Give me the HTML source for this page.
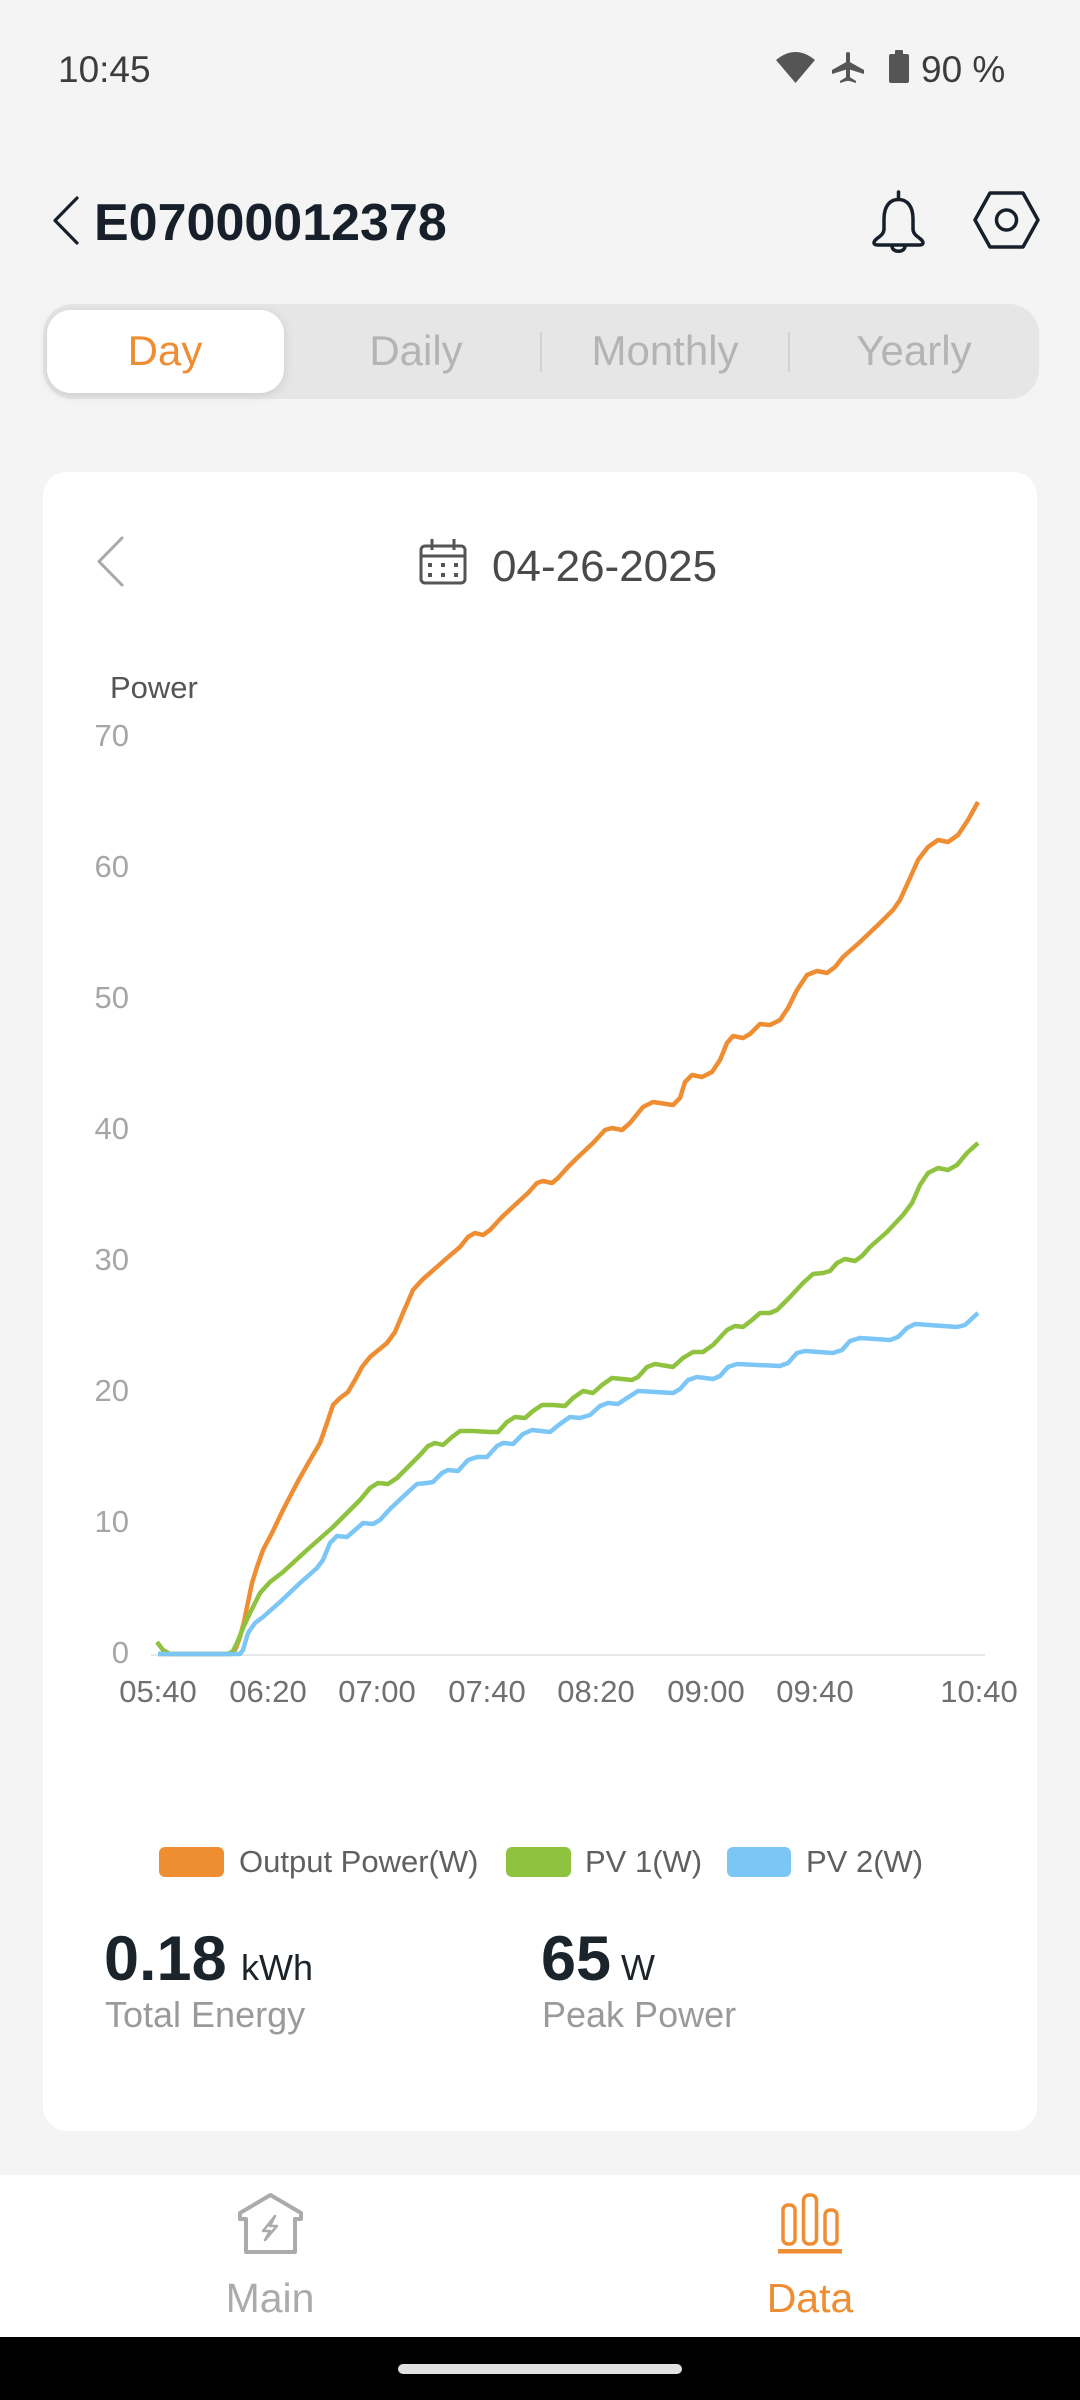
<!DOCTYPE html>
<html>
<head>
<meta charset="utf-8">
<style>
  html,body{margin:0;padding:0;background:#f4f4f4;}
  body{width:1080px;height:2400px;overflow:hidden;}
  svg{display:block;font-family:"Liberation Sans",Arial,sans-serif;}
</style>
</head>
<body>
<svg width="1080" height="2400" viewBox="0 0 1080 2400" xmlns="http://www.w3.org/2000/svg">
  <defs>
    <filter id="sh" x="-20%" y="-30%" width="140%" height="160%">
      <feDropShadow dx="0" dy="2" stdDeviation="5" flood-color="#000" flood-opacity="0.12"/>
    </filter>
  </defs>
  <rect x="0" y="0" width="1080" height="2400" fill="#f4f4f4"/>

  <!-- Status bar -->
  <text x="58" y="82" font-size="37" fill="#3c3c3c">10:45</text>
  <path d="M776,60 Q795.5,44 815,60 L795.5,83 Z" fill="#555"/>
  <g fill="#555">
    <rect x="846" y="52" width="4" height="29" rx="2"/>
    <polygon points="848,61 864,70 864,74 848,69 832,74 832,70"/>
    <polygon points="848,76 856,81 856,83 848,80.5 840,83 840,81"/>
    <rect x="895" y="50" width="8" height="5" rx="1"/>
    <rect x="889" y="54" width="20" height="29" rx="2"/>
  </g>
  <text x="921" y="82" font-size="37" fill="#3c3c3c">90 %</text>

  <!-- Title row -->
  <polyline points="77,198 55,220.5 77,243" fill="none" stroke="#17202a" stroke-width="3.2" stroke-linecap="round" stroke-linejoin="round"/>
  <text x="94" y="240" font-size="52" font-weight="bold" fill="#17202a">E07000012378</text>
  <g fill="none" stroke="#17202a" stroke-width="3.5" stroke-linejoin="round" stroke-linecap="round">
    <line x1="898.5" y1="192" x2="898.5" y2="199"/>
    <path d="M884,219 C884,206 890,199.5 898.5,199.5 C907,199.5 913,206 913,219 L913,229 C913,235 919,237 922,240.5 C924,243 923,245 919,245 L878,245 C874,245 873,243 875,240.5 C878,237 884,235 884,229 Z"/>
    <path d="M892,246 C892,253 905,253 905,246"/>
    <path d="M975,220 L990,193 L1023,193 L1038,220 L1023,247 L990,247 Z"/>
    <circle cx="1006.5" cy="220" r="10"/>
  </g>

  <!-- Segmented control -->
  <rect x="43" y="304" width="996" height="95" rx="30" fill="#e6e6e6"/>
  <rect x="47" y="310" width="237" height="83" rx="24" fill="#ffffff" filter="url(#sh)"/>
  <line x1="541" y1="332" x2="541" y2="372" stroke="#d2d2d2" stroke-width="2"/>
  <line x1="789" y1="332" x2="789" y2="372" stroke="#d2d2d2" stroke-width="2"/>
  <text x="165" y="365" font-size="42" fill="#ef8d33" text-anchor="middle">Day</text>
  <text x="416" y="365" font-size="42" fill="#b4b4b4" text-anchor="middle">Daily</text>
  <text x="665" y="365" font-size="42" fill="#b4b4b4" text-anchor="middle">Monthly</text>
  <text x="914" y="365" font-size="42" fill="#b4b4b4" text-anchor="middle">Yearly</text>

  <!-- Card -->
  <rect x="43" y="472" width="994" height="1659" rx="24" fill="#ffffff"/>
  <polyline points="122,538 99,561.5 122,585" fill="none" stroke="#a8a8a8" stroke-width="3" stroke-linecap="round" stroke-linejoin="round"/>
  <g fill="none" stroke="#555" stroke-width="3">
    <rect x="421" y="546" width="44" height="37" rx="4"/>
    <line x1="421" y1="556" x2="465" y2="556"/>
    <line x1="432" y1="539" x2="432" y2="550"/>
    <line x1="454" y1="539" x2="454" y2="550"/>
  </g>
  <g fill="#555">
    <rect x="428" y="563" width="4" height="4"/><rect x="441" y="563" width="4" height="4"/><rect x="454" y="563" width="4" height="4"/>
    <rect x="428" y="573" width="4" height="4"/><rect x="441" y="573" width="4" height="4"/><rect x="454" y="573" width="4" height="4"/>
  </g>
  <text x="492" y="581" font-size="44" fill="#4a4a4a">04-26-2025</text>

  <!-- Chart -->
  <text x="110" y="698" font-size="31" fill="#555">Power</text>
  <g font-size="31" fill="#a6a6a6" text-anchor="end">
    <text x="129" y="746">70</text>
    <text x="129" y="877">60</text>
    <text x="129" y="1008">50</text>
    <text x="129" y="1139">40</text>
    <text x="129" y="1270">30</text>
    <text x="129" y="1401">20</text>
    <text x="129" y="1532">10</text>
    <text x="129" y="1663">0</text>
  </g>
  <line x1="151" y1="1655" x2="985" y2="1655" stroke="#e8e8e8" stroke-width="2"/>
  <g font-size="31" fill="#707070" text-anchor="middle">
    <text x="158" y="1702">05:40</text>
    <text x="268" y="1702">06:20</text>
    <text x="377" y="1702">07:00</text>
    <text x="487" y="1702">07:40</text>
    <text x="596" y="1702">08:20</text>
    <text x="706" y="1702">09:00</text>
    <text x="815" y="1702">09:40</text>
    <text x="979" y="1702">10:40</text>
  </g>

  <g fill="none" stroke-width="4.5" stroke-linejoin="round" stroke-linecap="butt">
    <polyline stroke="#ef8d33" points="158,1654 232,1654 236,1648 240,1637 244,1622 247,1607 252,1583 257,1567 263,1550 272,1533 283,1510 297,1483 310,1460 320,1443 327,1423 333,1405 340,1398 348,1392 355,1380 362,1367 370,1357 387,1343 395,1332 403,1313 413,1290 422,1280 430,1273 447,1258 460,1247 468,1237 475,1233 483,1235 490,1230 502,1217 517,1203 528,1193 537,1183 543,1181 552,1183 558,1178 567,1168 577,1158 593,1143 605,1130 612,1128 622,1130 630,1123 643,1107 653,1102 673,1105 680,1098 685,1082 692,1075 702,1077 712,1072 720,1060 727,1043 733,1036 743,1038 750,1034 760,1024 770,1025 780,1020 788,1008 797,990 807,975 817,971 827,973 835,967 843,957 860,942 880,923 893,910 900,900 910,878 918,860 928,847 938,840 948,842 958,835 968,820 978,802"/>
    <polyline stroke="#8fc23f" points="157,1642 163,1650 170,1654 228,1654 233,1651 237,1643 243,1628 250,1613 260,1593 270,1582 283,1572 307,1550 333,1527 360,1500 370,1488 378,1483 388,1484 397,1478 407,1468 420,1455 428,1446 435,1443 443,1445 452,1437 460,1431 473,1431 490,1432 498,1432 507,1422 515,1417 525,1418 533,1411 542,1405 553,1405 565,1406 573,1398 583,1391 593,1393 602,1385 612,1378 632,1380 638,1377 647,1367 655,1364 673,1367 683,1358 693,1352 703,1352 713,1345 727,1330 735,1326 743,1327 752,1320 760,1313 770,1313 777,1310 790,1297 803,1283 813,1274 823,1273 830,1271 837,1263 845,1259 855,1261 862,1256 870,1247 887,1232 903,1215 912,1203 920,1185 928,1173 938,1168 948,1170 957,1165 967,1153 978,1143"/>
    <polyline stroke="#7cc6f5" points="158,1654 240,1654 243,1650 248,1633 255,1623 263,1617 280,1602 300,1583 317,1568 323,1560 330,1543 337,1536 347,1537 355,1530 363,1523 373,1524 380,1520 390,1509 407,1493 417,1484 427,1483 433,1482 442,1473 448,1470 458,1471 468,1460 477,1457 487,1457 497,1446 503,1443 513,1444 523,1434 532,1430 550,1432 560,1424 570,1417 580,1418 590,1415 600,1406 608,1403 618,1404 627,1398 638,1391 673,1393 680,1389 688,1380 697,1377 713,1379 720,1376 728,1367 737,1364 780,1366 788,1363 797,1353 805,1351 833,1353 842,1350 850,1341 860,1338 890,1340 898,1337 907,1328 915,1324 957,1327 965,1325 978,1313"/>
  </g>

  <!-- Legend -->
  <rect x="159" y="1847" width="65" height="30" rx="6" fill="#ef8d33"/>
  <text x="239" y="1872" font-size="31" fill="#606060">Output Power(W)</text>
  <rect x="506" y="1847" width="65" height="30" rx="6" fill="#8fc23f"/>
  <text x="585" y="1872" font-size="31" fill="#606060">PV 1(W)</text>
  <rect x="727" y="1847" width="64" height="30" rx="6" fill="#7cc6f5"/>
  <text x="806" y="1872" font-size="31" fill="#606060">PV 2(W)</text>

  <!-- Stats -->
  <text x="104" y="1980" font-size="63" font-weight="bold" fill="#1b232b">0.18</text>
  <text x="241" y="1980" font-size="36" fill="#1b232b">kWh</text>
  <text x="105" y="2027" font-size="36" fill="#9a9a9a">Total Energy</text>
  <text x="541" y="1980" font-size="63" font-weight="bold" fill="#1b232b">65</text>
  <text x="621" y="1980" font-size="36" fill="#1b232b">W</text>
  <text x="542" y="2027" font-size="36" fill="#9a9a9a">Peak Power</text>

  <!-- Bottom nav -->
  <rect x="0" y="2175" width="1080" height="162" fill="#ffffff"/>
  <path d="M270.5,2195 L301,2213 L301,2219 L295,2219 L295,2252 L246,2252 L246,2219 L240,2219 L240,2213 Z" fill="none" stroke="#ababab" stroke-width="4" stroke-linejoin="round"/>
  <path d="M275,2216 L263,2231 L270,2231 L265,2240 L277,2226 L270,2226 Z" fill="none" stroke="#ababab" stroke-width="2.5" stroke-linejoin="round"/>
  <text x="270" y="2312" font-size="41" fill="#ababab" text-anchor="middle">Main</text>
  <g fill="none" stroke="#ef8d33" stroke-width="3.5">
    <rect x="783" y="2205" width="12" height="39" rx="5"/>
    <rect x="803.5" y="2195" width="13" height="49" rx="5.5"/>
    <rect x="825" y="2210" width="12" height="34" rx="5"/>
  </g>
  <rect x="778" y="2249" width="64" height="4.5" fill="#ef8d33"/>
  <text x="810" y="2312" font-size="41" fill="#ef8d33" text-anchor="middle">Data</text>

  <rect x="0" y="2337" width="1080" height="63" fill="#000"/>
  <rect x="398" y="2364" width="284" height="10" rx="5" fill="#e0e0e0"/>
</svg>
</body>
</html>
